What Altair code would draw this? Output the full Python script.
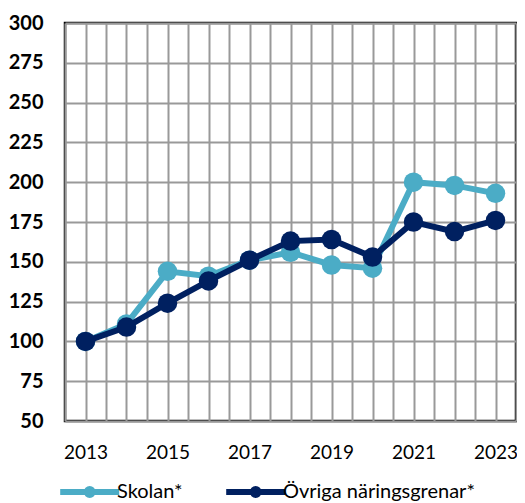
import altair as alt
import pandas as pd

years = list(range(2013, 2024))
skolan = [100, 111, 144, 141, 151, 156, 148, 146, 200, 198, 193]
ovriga = [100, 109, 124, 138, 151, 163, 164, 153, 175, 169, 176]
series_names = ["Skolan*", "Övriga näringsgrenar*"]
series_colors = ["#4BACC6", "#002060"]
y_ticks = list(range(50, 301, 25))
x_grid = [2012.5 + 0.5 * i for i in range(23)]

rows = []
for name, vals in zip(series_names, [skolan, ovriga]):
    for yr, v in zip(years, vals):
        rows.append({"year": yr, "value": v, "series": name})
df = pd.DataFrame(rows)

FONT = "Lato"
legend_path = "M-1,0L4,0M1.25,0A0.25,0.25,0,1,1,1.75,0A0.25,0.25,0,1,1,1.25,0Z"

color = alt.Color(
    "series:N",
    scale=alt.Scale(domain=series_names, range=series_colors),
    legend=alt.Legend(
        title=None,
        orient="none",
        legendX=-8,
        legendY=454,
        direction="horizontal",
        symbolType=legend_path,
        symbolSize=557,
        symbolStrokeWidth=6,
        symbolFillColor="transparent",
        labelOffset=30,
        columnPadding=31,
        labelFont=FONT,
        labelFontSize=20,
        labelColor="black",
        labelLimit=400,
    ),
)

x = alt.X(
    "year:Q",
    scale=alt.Scale(domain=[2012.5, 2023.5], nice=False, zero=False),
    axis=alt.Axis(
        values=x_grid,
        labelExpr="datum.value % 2 == 1 ? toString(datum.value) : ''",
        grid=True,
        ticks=False,
        domain=False,
        title=None,
        labelFont=FONT,
        labelFontSize=19,
        labelColor="black",
        labelPadding=22,
        labelFlush=False,
        labelOverlap=False,
    ),
)
y = alt.Y(
    "value:Q",
    scale=alt.Scale(domain=[50, 300], nice=False, zero=False),
    axis=alt.Axis(
        values=y_ticks,
        grid=True,
        ticks=False,
        domain=False,
        title=None,
        labelFont=FONT,
        labelFontSize=20,
        labelFontWeight="bold",
        labelColor="black",
        labelPadding=22,
    ),
)

base = alt.Chart(df)
layers = []
for name in series_names:
    sub = base.transform_filter(alt.datum.series == name)
    layers.append(sub.mark_line(strokeWidth=6).encode(x=x, y=y, color=color))
    layers.append(sub.mark_point(filled=True, size=380, opacity=1).encode(x=x, y=y, color=color))

chart = alt.layer(*layers).properties(
    width=451,
    height=398,
    autosize=alt.AutoSizeParams(type="none"),
    padding={"left": 57, "top": 15, "right": 1, "bottom": 90},
).configure_view(
    stroke="black", strokeWidth=2.5
).configure_axis(
    gridColor="#999999", gridWidth=2, gridOpacity=1
)

chart.save("out.html", embed_options={"renderer": "svg", "actions": False})
